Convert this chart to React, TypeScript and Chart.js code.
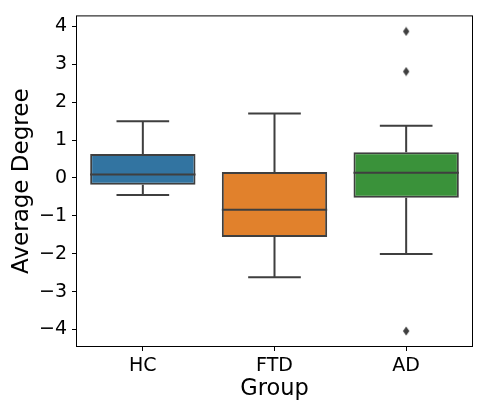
import React, { useEffect, useRef } from "react";
import { Chart, registerables } from "chart.js";

Chart.register(...registerables);

const GROUPS = ["HC", "FTD", "AD"];
const COLORS = ["#3274A1", "#E1812C", "#3A923A"];
const Q1 = [-0.18, -1.56, -0.52];
const Q3 = [0.63, 0.16, 0.68];
const MEDIANS = [0.09, -0.84, 0.14];
const WHISKER_LOW = [-0.45, -2.62, -2.01];
const WHISKER_HIGH = [1.5, 1.7, 1.38];
const OUTLIER_GROUP = ["AD", "AD", "AD"];
const OUTLIER_VALUES = [3.87, 2.81, -4.04];
const Y_TICKS = [-4, -3, -2, -1, 0, 1, 2, 3, 4];
const Y_MIN = -4.436;
const Y_MAX = 4.266;

const LINE = "#3f3f3f";

function makeDiamond(): HTMLCanvasElement {
  const c = document.createElement("canvas");
  c.width = 8;
  c.height = 10;
  const g = c.getContext("2d")!;
  g.fillStyle = LINE;
  g.beginPath();
  g.moveTo(4, 0.5);
  g.lineTo(7.2, 5);
  g.lineTo(4, 9.5);
  g.lineTo(0.8, 5);
  g.closePath();
  g.fill();
  return c;
}

const boxPlugin = {
  id: "boxExtras",
  afterDatasetsDraw(chart: any) {
    const ctx = chart.ctx;
    const x = chart.scales.x;
    const y = chart.scales.y;
    const meta = chart.getDatasetMeta(0);
    ctx.save();
    ctx.strokeStyle = LINE;
    ctx.lineWidth = 2;
    GROUPS.forEach((g, i) => {
      const bar = meta.data[i];
      const cx = x.getPixelForValue(i);
      const half = bar.width / 2;
      const capHalf = half / 2;
      const yq1 = y.getPixelForValue(Q1[i]);
      const yq3 = y.getPixelForValue(Q3[i]);
      const ylo = y.getPixelForValue(WHISKER_LOW[i]);
      const yhi = y.getPixelForValue(WHISKER_HIGH[i]);
      const ym = y.getPixelForValue(MEDIANS[i]);
      ctx.beginPath();
      ctx.moveTo(cx, yq3);
      ctx.lineTo(cx, yhi);
      ctx.moveTo(cx - capHalf, yhi);
      ctx.lineTo(cx + capHalf, yhi);
      ctx.moveTo(cx, yq1);
      ctx.lineTo(cx, ylo);
      ctx.moveTo(cx - capHalf, ylo);
      ctx.lineTo(cx + capHalf, ylo);
      ctx.moveTo(cx - half, ym);
      ctx.lineTo(cx + half, ym);
      ctx.stroke();
    });
    // frame
    const a = chart.chartArea;
    ctx.strokeStyle = "#000";
    ctx.lineWidth = 1;
    ctx.strokeRect(a.left - 0.5, a.top - 0.5, a.right - a.left + 1, a.bottom - a.top + 1);
    ctx.restore();
  },
};

export default function App() {
  const ref = useRef<HTMLCanvasElement | null>(null);
  useEffect(() => {
    document.body.style.margin = "0";
    const canvas = ref.current!;
    const diamond = makeDiamond();
    const chart = new Chart(canvas, {
      type: "bar",
      data: {
        labels: GROUPS,
        datasets: [
          {
            type: "bar",
            data: GROUPS.map((_, i) => [Q1[i], Q3[i]]) as any,
            backgroundColor: COLORS,
            borderColor: LINE,
            borderWidth: 2,
            borderSkipped: false,
            categoryPercentage: 1,
            barPercentage: 0.8,
          } as any,
          {
            type: "scatter",
            data: OUTLIER_VALUES.map((v, i) => ({ x: OUTLIER_GROUP[i], y: v })) as any,
            pointStyle: diamond as any,
            pointRadius: 4,
          } as any,
        ],
      },
      options: {
        responsive: false,
        animation: false,
        devicePixelRatio: 1,
        layout: { padding: { top: 13, right: 1, left: 0, bottom: 0 } },
        plugins: { legend: { display: false }, tooltip: { enabled: false } },
        scales: {
          x: {
            type: "category",
            offset: true,
            border: { display: false },
            grid: { drawOnChartArea: false, drawTicks: true, tickLength: 5, color: "#000", offset: false },
            ticks: {
              color: "#000",
              padding: 4,
              font: { family: "DejaVu Sans", size: 19 },
            },
            title: {
              display: true,
              text: "Group",
              color: "#000",
              font: { family: "DejaVu Sans", size: 22.5, lineHeight: 1.0 },
              padding: { top: 0, bottom: 0 },
            },
            afterFit: (s: any) => {
              s.height = 54;
            },
          },
          y: {
            type: "linear",
            min: Y_MIN,
            max: Y_MAX,
            border: { display: false },
            grid: { drawOnChartArea: false, drawTicks: true, tickLength: 5, color: "#000" },
            afterBuildTicks: (s: any) => {
              s.ticks = Y_TICKS.map((v) => ({ value: v }));
            },
            ticks: {
              color: "#000",
              padding: 5,
              font: { family: "DejaVu Sans", size: 19 },
              callback: (v: any) => String(v).replace("-", "\u2212"),
            },
            title: {
              display: true,
              text: "Average Degree",
              color: "#000",
              font: { family: "DejaVu Sans", size: 23, lineHeight: 1.2 },
              padding: { top: 8, bottom: 0 },
            },
            afterFit: (s: any) => {
              s.width = 77;
            },
          },
        },
      },
      plugins: [boxPlugin],
    });
    return () => chart.destroy();
  }, []);
  return (
    <div style={{ width: 477, height: 400 }}>
      <canvas ref={ref} width={477} height={400} />
    </div>
  );
}
